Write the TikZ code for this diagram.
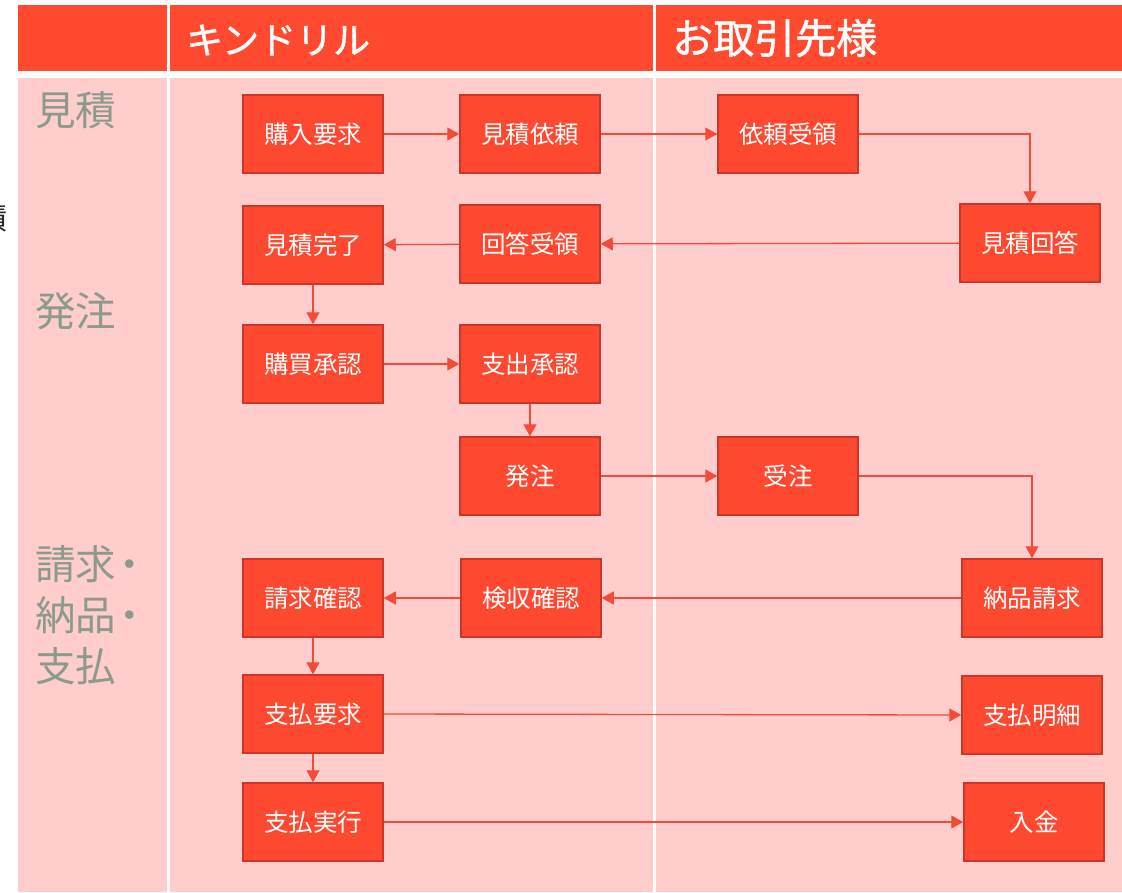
\documentclass[tikz,border=0pt]{standalone}
\usepackage{fontspec}
\setmainfont{Noto Sans CJK JP}
\newfontfamily\hdrfont{Noto Sans CJK JP}[BoldFont={Noto Sans CJK JP}, BoldFeatures={FakeBold=1.2}]
\usetikzlibrary{arrows.meta}
\definecolor{hdr}{HTML}{FF4A30}
\definecolor{body}{HTML}{FFCDCC}
\definecolor{boxfill}{HTML}{FF4830}
\definecolor{boxline}{HTML}{C8382A}
\definecolor{lane}{HTML}{8B9A8C}
\definecolor{conn}{HTML}{F24B3A}
\tikzset{
  proc/.style={draw=boxline, fill=boxfill, line width=1.5pt, minimum width=140pt, minimum height=78pt, inner sep=0pt, text=white, font=\fontsize{24.5}{28}\selectfont},
  arr/.style={draw=conn, line width=1.3pt, -{Triangle[length=12pt,width=13pt]}},
  hdrtext/.style={text=white, font=\hdrfont\bfseries, anchor=west, inner sep=0pt},
  lanetext/.style={text=lane, font=\fontsize{40.5}{51}\selectfont, anchor=north west, inner sep=0pt, align=left},
  cell/.style={fill=hdr},
  bodycell/.style={fill=body}
}
\begin{document}
\begin{tikzpicture}[x=1pt,y=-1pt]
\useasboundingbox (0,0) rectangle (1122,892);
\fill[white] (0,0) rectangle (1122,892);
% header
\fill[cell] (18,5) rectangle (167,71);
\fill[cell] (170,5) rectangle (653,71);
\fill[cell] (656,5) rectangle (1122,71);
% body
\fill[bodycell] (18,78) rectangle (167,892);
\fill[bodycell] (170,78) rectangle (653,892);
\fill[bodycell] (656,78) rectangle (1122,892);
\node[hdrtext, font=\fontsize{37}{40}\hdrfont\bfseries] (hk) at (186,40) {キンドリル};
\node[hdrtext, font=\fontsize{41}{44}\hdrfont\bfseries] (ht) at (672,38) {お取引先様};
% lane labels
\node[lanetext] (l1) at (35,91) {見積};
\node[lanetext] (l2) at (35,292) {発注};
\node[lanetext] (l3) at (35,545) {請求\kern-7pt・\\納品\kern-7pt・\\支払};
\node[text=black!85, font=\fontsize{30}{34}\selectfont, inner sep=0pt] (cut) at (-7,218) {積};
% process boxes
\node[proc] (a1) at (313,134) {購入要求};
\node[proc] (a2) at (530,134) {見積依頼};
\node[proc] (a3) at (788,134) {依頼受領};
\node[proc] (b1) at (1030,243) {見積回答};
\node[proc] (b2) at (530,244) {回答受領};
\node[proc] (b3) at (313,245) {見積完了};
\node[proc] (c1) at (313,364) {購買承認};
\node[proc] (c2) at (530,364) {支出承認};
\node[proc] (d1) at (530,476) {発注};
\node[proc] (d2) at (788,476) {受注};
\node[proc] (e1) at (1032,598) {納品請求};
\node[proc] (e2) at (531,598) {検収確認};
\node[proc] (e3) at (313,598) {請求確認};
\node[proc] (f1) at (313,714) {支払要求};
\node[proc] (f2) at (1032,715) {支払明細};
\node[proc] (g1) at (313,822) {支払実行};
\node[proc] (g2) at (1034,822) {入金};
% connectors
\draw[arr] (a1) -- (a2);
\draw[arr] (a2) -- (a3);
\draw[arr] (a3.east) -| (b1.north);
\draw[arr] (b1) -- (b2);
\draw[arr] (b2) -- (b3);
\draw[arr] (b3) -- (c1);
\draw[arr] (c1) -- (c2);
\draw[arr] (c2) -- (d1);
\draw[arr] (d1) -- (d2);
\draw[arr] (d2.east) -| (e1.north);
\draw[arr] (e1) -- (e2);
\draw[arr] (e2) -- (e3);
\draw[arr] (e3) -- (f1);
\draw[arr] (f1.east) -- (f2.west);
\draw[arr] (f1) -- (g1);
\draw[arr] (g1) -- (g2);
\end{tikzpicture}
\end{document}
